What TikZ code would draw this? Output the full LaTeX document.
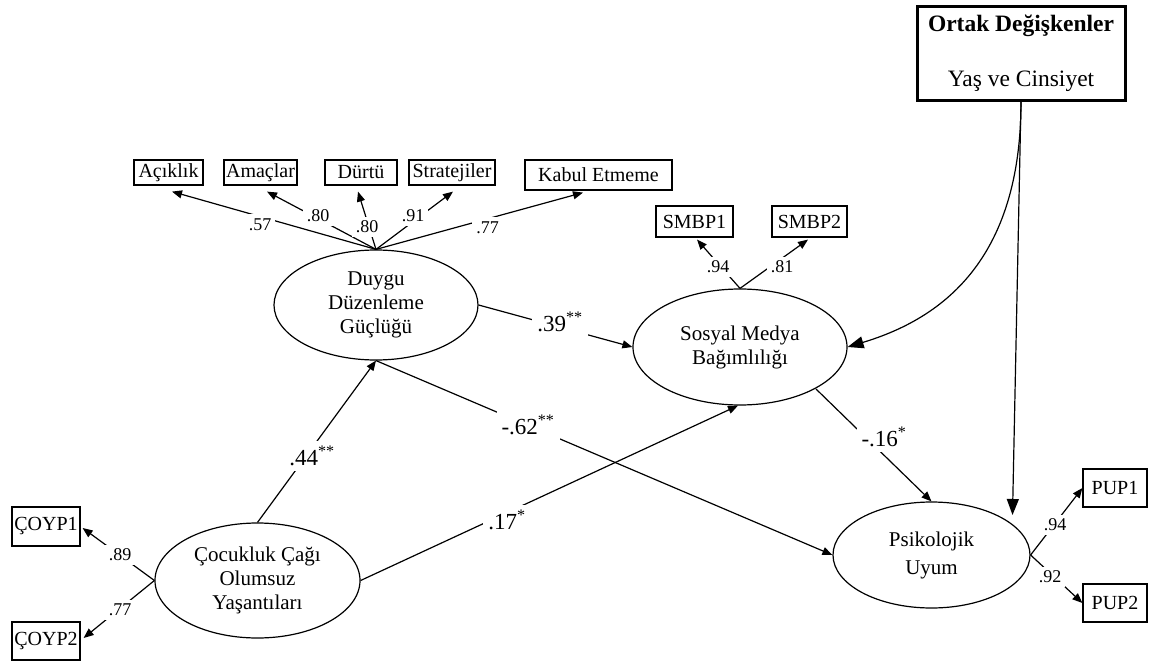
\documentclass[tikz,border=0pt]{standalone}
\usepackage{fontspec}
\setmainfont{Liberation Serif}
\usetikzlibrary{arrows.meta,calc,shapes.geometric}
\begin{document}
\begin{tikzpicture}[x=1pt,y=-1pt,
  obs/.style={draw,line width=1.2pt,rectangle,inner sep=0pt,font=\fontsize{20}{24}\selectfont},
  lat/.style={draw,line width=1.2pt,ellipse,inner sep=0pt,align=center,font=\fontsize{21}{24}\selectfont},
  ld/.style={fill=white,inner sep=4pt,font=\fontsize{18}{20}\selectfont},
  pc/.style={fill=white,inner sep=5pt,font=\fontsize{23}{26}\selectfont},
  arr/.style={line width=1.2pt,-{Triangle[length=10pt,width=8pt]}},
  bigarr/.style={line width=1.2pt,-{Triangle[length=16pt,width=12pt]}},
]
\useasboundingbox[fill=white] (0,0) rectangle (1149,661);

% covariates box
\node[draw,line width=3pt,minimum width=208pt,minimum height=93pt,inner sep=0pt,align=center,
      font=\fontsize{23.5}{55}\selectfont] (ortak) at (1021,53.5)
      {\textbf{Ortak Değişkenler}\\Yaş ve Cinsiyet};

% indicator boxes
\node[obs,minimum width=69pt,minimum height=25pt] (acik) at (168.5,172.5) {Açıklık};
\node[obs,minimum width=73pt,minimum height=25pt] (amac) at (260.5,172.5) {Amaçlar};
\node[obs,minimum width=72pt,minimum height=25pt] (durtu) at (361,172.5) {Dürtü};
\node[obs,minimum width=86pt,minimum height=25pt] (strat) at (452,172.5) {Stratejiler};
\node[obs,minimum width=147pt,minimum height=30pt] (kabul) at (598.5,175) {Kabul Etmeme};
\node[obs,minimum width=77pt,minimum height=31pt] (smbp1) at (694.5,221.5) {SMBP1};
\node[obs,minimum width=75pt,minimum height=31pt] (smbp2) at (809.5,221.5) {SMBP2};
\node[obs,minimum width=68pt,minimum height=39pt] (coyp1) at (46,526.5) {ÇOYP1};
\node[obs,minimum width=68pt,minimum height=38pt] (coyp2) at (46,641) {ÇOYP2};
\node[obs,minimum width=64pt,minimum height=38pt] (pup1) at (1115,488) {PUP1};
\node[obs,minimum width=64pt,minimum height=38pt] (pup2) at (1115,603) {PUP2};

% latent variables
\node[lat,minimum width=204pt,minimum height=110pt] (duygu) at (376,305) {Duygu\\Düzenleme\\Güçlüğü};
\node[lat,minimum width=214pt,minimum height=116pt] (sosyal) at (740,347) {Sosyal Medya\\Bağımlılığı};
\node[lat,minimum width=205pt,minimum height=115pt] (cocuk) at (257.5,580.5) {Çocukluk Çağı\\Olumsuz\\Yaşantıları};
\node[lat,minimum width=197pt,minimum height=106pt,font=\fontsize{21}{28}\selectfont] (psik) at (931.5,555) {Psikolojik\\Uyum};

% measurement arrows
\draw[arr] (duygu.north) -- ($(acik.south)+(3.5,6)$);
\draw[arr] (duygu.north) -- ($(amac.south)+(6.5,6)$);
\draw[arr] (duygu.north) -- ($(durtu.south)+(-3,6)$);
\draw[arr] (duygu.north) -- ($(strat.south)+(1,6)$);
\draw[arr] (duygu.north) -- ($(kabul.south)+(-15.5,2)$);
\draw[arr] (sosyal.north) -- ($(smbp1.south)+(2.5,2)$);
\draw[arr] (sosyal.north) -- ($(smbp2.south)+(-1.5,2)$);
\draw[arr] (cocuk.west) -- ($(coyp1.east)+(2,1.5)$);
\draw[arr] (cocuk.west) -- ($(coyp2.east)+(3,-3)$);
\draw[arr] (psik.east) -- (pup1.west);
\draw[arr] (psik.east) -- (pup2.west);

% structural arrows
\draw[arr] (cocuk.north) -- (duygu.south);
\draw[arr] (duygu.east) -- (sosyal.west);
\draw[arr] (duygu.south) -- (psik.west);
\draw[arr] (cocuk.east) -- ($(sosyal.south)+(-2,0)$);
\draw[arr] ($(sosyal.center)+(76,42)$) -- (psik.north);

% covariate arrows
\draw[bigarr] (ortak.south) .. controls ($(ortak.south)+(0,160)$) and ($(sosyal.east)+(93,-28)$) .. (sosyal.east);
\draw[bigarr] (ortak.south) -- ($(psik.center)+(81,-40)$);

% loading labels
\node[ld] (l1) at (260,224.5) {.57};
\node[ld] (l2) at (318,216) {.80};
\node[ld] (l3) at (367,227) {.80};
\node[ld] (l4) at (413,216) {.91};
\node[ld] (l5) at (487.5,227.5) {.77};
\node[ld] (l6) at (718,267) {.94};
\node[ld] (l7) at (782,267) {.81};
\node[ld] (l8) at (120,555) {.89};
\node[ld] (l9) at (120,610) {.77};
\node[ld] (l10) at (1055,525) {.94};
\node[ld] (l11) at (1050,577) {.92};

% path coefficient labels
\node[pc] (p1) at (312,456) {.44\textsuperscript{**}};
\node[pc] (p2) at (560,322) {.39\textsuperscript{**}};
\node[pc] (p3) at (528,425) {-.62\textsuperscript{**}};
\node[pc] (p4) at (507,520) {.17\textsuperscript{*}};
\node[pc] (p5) at (884,437) {-.16\textsuperscript{*}};
\end{tikzpicture}
\end{document}
